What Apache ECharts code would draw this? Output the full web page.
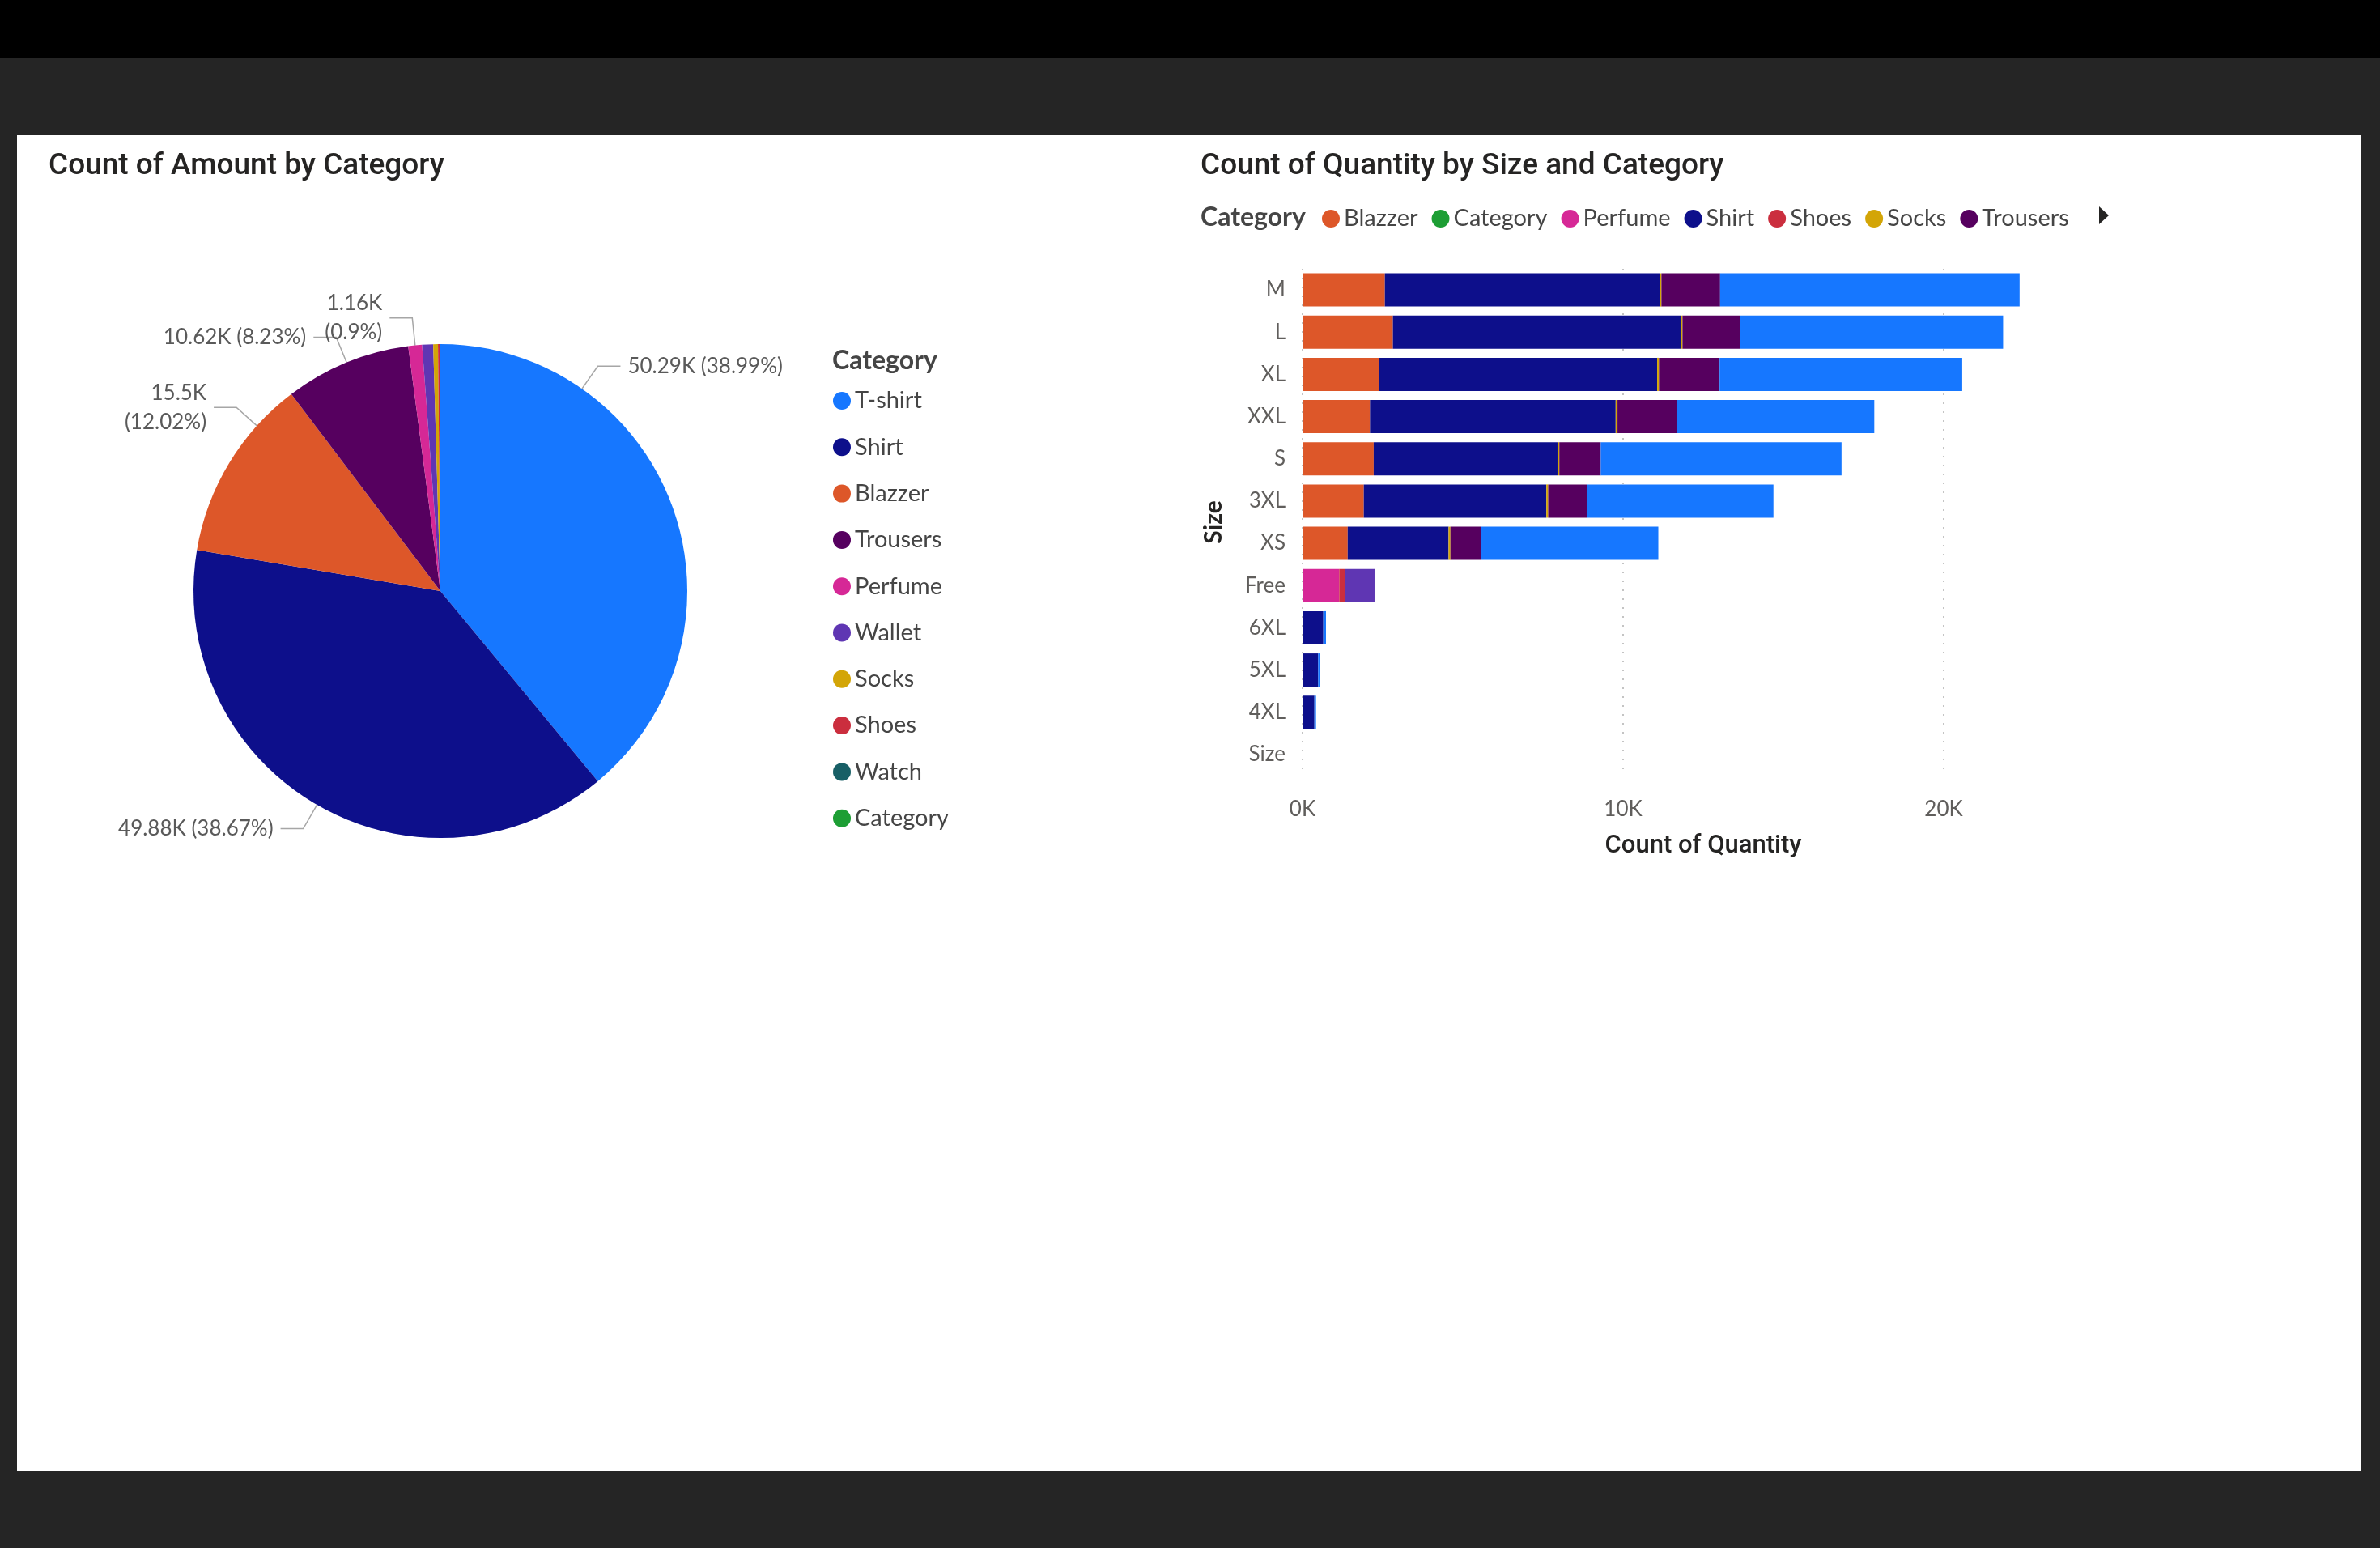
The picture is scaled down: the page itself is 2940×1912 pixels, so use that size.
<!DOCTYPE html>
<html><head><meta charset="utf-8">
<script src="https://cdn.jsdelivr.net/npm/echarts@6/dist/echarts.min.js"></script>
<style>
html,body{margin:0;padding:0;width:2940px;height:1912px;background:#252525;overflow:hidden}
#topband{position:absolute;left:0;top:0;width:2940px;height:72px;background:#000}
#panel{position:absolute;left:21px;top:167px;width:2895px;height:1650px;background:#fff}
#chart{position:absolute;left:0;top:0;width:2940px;height:1912px}
</style></head><body>
<div id="topband"></div><div id="panel"></div><div id="chart"></div>
<script>
// ---- Pie: Count of Amount by Category ----
const pieCategories = ['T-shirt','Shirt','Blazzer','Trousers','Perfume','Wallet','Socks','Shoes','Watch','Category'];
const pieValues = [50290, 49880, 15500, 10620, 1160, 926, 400, 177, 20, 1];

// ---- Bar: Count of Quantity by Size and Category ----
const sizes = ['M','L','XL','XXL','S','3XL','XS','Free','6XL','5XL','4XL','Size'];
const barCategories = ['Blazzer','Category','Perfume','Shirt','Shoes','Socks','Trousers','T-shirt','Wallet','Watch'];
const blazzerQty  = [2568, 2819, 2375, 2104, 2220, 1911, 1409, 0, 0, 0, 0, 0];
const categoryQty = [0, 0, 0, 0, 0, 0, 0, 0, 0, 0, 0, 1];
const perfumeQty  = [0, 0, 0, 0, 0, 0, 0, 1144, 0, 0, 0, 0];
const shirtQty    = [8571, 8977, 8687, 7664, 5734, 5695, 3147, 0, 648, 488, 370, 0];
const shoesQty    = [0, 0, 0, 0, 0, 0, 0, 177, 0, 0, 0, 0];
const socksQty    = [57, 57, 57, 57, 57, 57, 57, 0, 0, 0, 0, 0];
const trousersQty = [1830, 1796, 1892, 1853, 1293, 1216, 965, 0, 0, 0, 0, 0];
const tshirtQty   = [9343, 8205, 7568, 6158, 7510, 5811, 5521, 0, 84, 59, 51, 0];
const walletQty   = [0, 0, 0, 0, 0, 0, 0, 926, 0, 0, 0, 0];
const watchQty    = [0, 0, 0, 0, 0, 0, 0, 20, 0, 0, 0, 0];
const xTickValues = [0, 10000, 20000];
const barLegendShown = ['Blazzer','Category','Perfume','Shirt','Shoes','Socks','Trousers'];

const qtyByCategory = {
  'Blazzer': blazzerQty, 'Category': categoryQty, 'Perfume': perfumeQty, 'Shirt': shirtQty,
  'Shoes': shoesQty, 'Socks': socksQty, 'Trousers': trousersQty, 'T-shirt': tshirtQty,
  'Wallet': walletQty, 'Watch': watchQty
};
const colors = {
  'T-shirt':'#1677FF','Shirt':'#0D0F8B','Blazzer':'#DD5729','Trousers':'#56005F',
  'Perfume':'#D62896','Wallet':'#5F36B3','Socks':'#D3A507','Shoes':'#CB2E3E',
  'Watch':'#175F66','Category':'#1D9E34'
};
// label placement styling (Power BI style): wrapped labels and shifted anchor angles (deg, CCW from 3 o'clock)
const wrapLabels = ['Blazzer','Perfume'];
const labelAnchorAngles = {'T-shirt': 55, 'Blazzer': 138};

const strip = s => s.replace(/\.?0+$/, '');
const total = pieValues.reduce((a,b)=>a+b,0);
const fmtK = v => strip((v/1000).toFixed(2)) + 'K';
const fmtPct = v => strip((v/total*100).toFixed(2)) + '%';

const UI = 'Lato, "Open Sans", sans-serif';
const TITLE = 'Roboto, sans-serif';

const PIE_CX = 544, PIE_CY = 730, PIE_R = 305, LINE1 = 34, LINE2 = 28, LABEL_GAP = 9;

const chart = echarts.init(document.getElementById('chart'), null, {renderer:'canvas'});

const pieData = pieCategories.map((n,i)=>({
  name:n, value:pieValues[i],
  itemStyle:{color:colors[n]},
  label:{show: pieValues[i]/total >= 0.008},
  labelLine:{show: pieValues[i]/total >= 0.008}
}));

const barSeries = barCategories.map(n=>({
  type:'bar', name:n, stack:'qty', data:qtyByCategory[n],
  barWidth:41, itemStyle:{color:colors[n]}
}));

const legendText = {fontFamily:UI, fontSize:29, lineHeight:30, color:'#454545'};

chart.setOption({
  animation:false,
  title:[
    {text:'Count of Amount by Category', left:60, top:187, padding:0,
     textStyle:{fontFamily:TITLE, fontSize:37, fontWeight:500, color:'#252423'}},
    {text:'Count of Quantity by Size and Category', left:1483, top:187, padding:0,
     textStyle:{fontFamily:TITLE, fontSize:37, fontWeight:500, color:'#252423'}},
    {text:'Category', left:1028, top:430, padding:0,
     textStyle:{fontFamily:UI, fontSize:32, fontWeight:'bold', color:'#454545'}},
    {text:'Category', left:1483, top:253, padding:0,
     textStyle:{fontFamily:UI, fontSize:32, fontWeight:'bold', color:'#454545'}}
  ],
  legend:[
    {data:pieCategories, orient:'vertical', left:1029, top:480, padding:0,
     icon:'circle', itemWidth:22, itemHeight:22, itemGap:27.3, textStyle:legendText},
    {data:barLegendShown, orient:'horizontal', left:1633, top:255, padding:0,
     icon:'circle', itemWidth:22, itemHeight:22, itemGap:17, textStyle:legendText}
  ],
  graphic:[
    {type:'polygon', shape:{points:[[2593,255],[2605,266],[2593,277]]}, style:{fill:'#252423'}}
  ],
  grid:{left:1609, top:332, width:990, height:626},
  xAxis:{
    type:'value', min:0, max:25000, interval:10000,
    axisLine:{show:false}, axisTick:{show:false},
    axisLabel:{formatter:v=> xTickValues.includes(v) ? (v/1000)+'K' : '', showMaxLabel:false,
      fontFamily:UI, fontSize:26, color:'#605E5C', margin:29},
    splitLine:{show:true, showMaxLine:false, lineStyle:{type:[2,9], color:'#C4C4C4', width:2}},
    name:'Count of Quantity', nameLocation:'middle', nameGap:72,
    nameTextStyle:{fontFamily:TITLE, fontSize:31, fontWeight:500, color:'#252423'}
  },
  yAxis:{
    type:'category', data:sizes, inverse:true,
    axisLine:{show:false}, axisTick:{show:false},
    axisLabel:{fontFamily:UI, fontSize:26, color:'#605E5C', margin:21},
    name:'Size', nameLocation:'middle', nameGap:95, nameRotate:90,
    nameTextStyle:{fontFamily:UI, fontSize:30, fontWeight:'bold', color:'#252423'}
  },
  series:[
    {
      type:'pie', name:'Count of Amount', center:[PIE_CX, PIE_CY], radius:PIE_R,
      startAngle:90, clockwise:true, avoidLabelOverlap:false,
      data:pieData,
      label:{position:'outside', fontFamily:UI, fontSize:26, lineHeight:36, color:'#5A5A5A',
        distanceToLabelLine:LABEL_GAP,
        formatter:p=> fmtK(p.value) + (wrapLabels.includes(p.name)?'\n':' ') + '(' + fmtPct(p.value) + ')'},
      labelLine:{length:LINE1, length2:LINE2, lineStyle:{color:'#A6A6A6', width:1.5}},
      labelLayout:function(params){
        const name = pieCategories[params.dataIndex];
        const ang = labelAnchorAngles[name];
        if (ang === undefined) return {};
        const rad = ang * Math.PI / 180;
        const c = Math.cos(rad), s = -Math.sin(rad);
        const p0 = [PIE_CX + PIE_R*c, PIE_CY + PIE_R*s];
        const p1 = [p0[0] + LINE1*c, p0[1] + LINE1*s];
        const dir = c >= 0 ? 1 : -1;
        const p2 = [p1[0] + dir*LINE2, p1[1]];
        return {
          x: p2[0] + dir*LABEL_GAP, y: p2[1],
          align: dir > 0 ? 'left' : 'right', verticalAlign: 'middle',
          labelLinePoints: [p0, p1, p2]
        };
      },
      emphasis:{disabled:true}
    },
    ...barSeries
  ]
});
</script>
</body></html>
